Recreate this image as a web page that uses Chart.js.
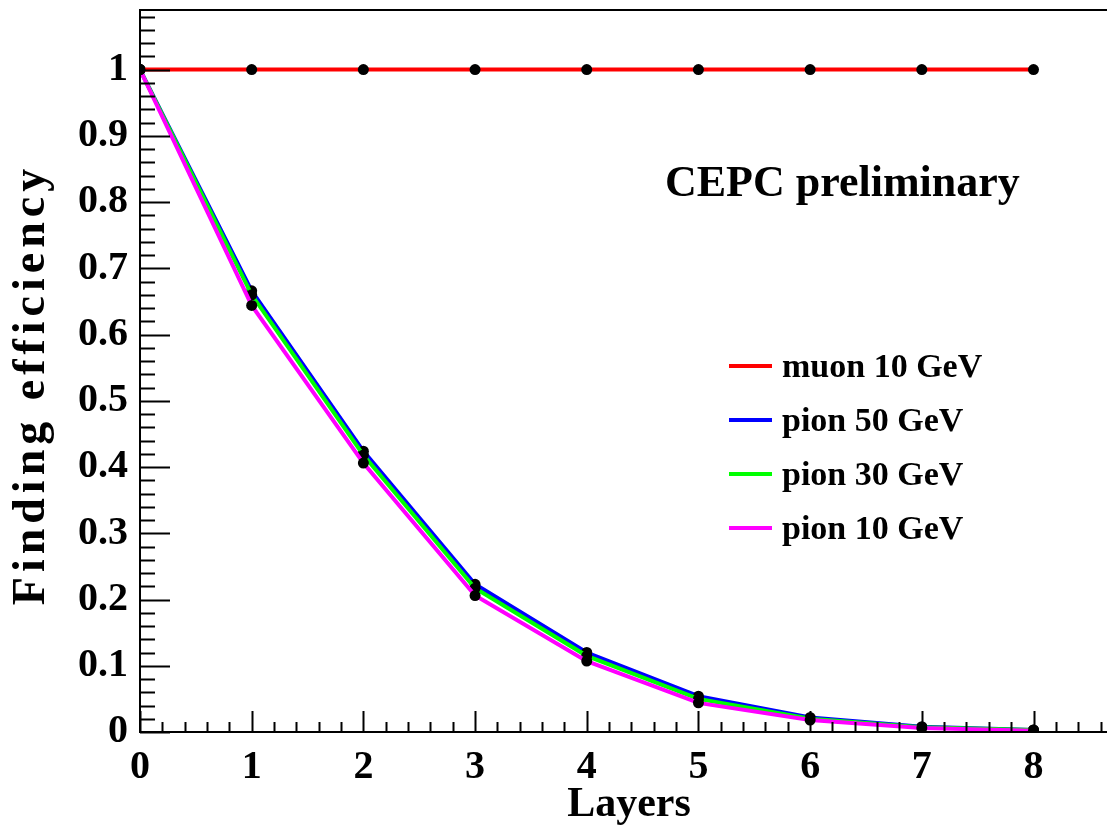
<!DOCTYPE html>
<html>
<head>
<meta charset="utf-8">
<script src="https://cdn.jsdelivr.net/npm/chart.js@4.4.0/dist/chart.umd.min.js"></script>
<style>
  html, body { margin: 0; background: #fff; overflow: hidden; width: 1107px; height: 827px; }
  #wrap { width: 1107px; height: 827px; overflow: hidden; position: relative; }
  #eff { position: absolute; left: 0; top: -10px; }
</style>
</head>
<body>
<div id="wrap"><canvas id="eff" width="1125" height="837"></canvas></div>
<script>
// layers crossed, and finding efficiency per sample
const layers = [0, 1, 2, 3, 4, 5, 6, 7, 8];
const muon10 = [1, 1, 1, 1, 1, 1, 1, 1, 1];
const pion50 = [1, 0.666, 0.424, 0.223, 0.120, 0.054, 0.022, 0.008, 0.003];
const pion30 = [1, 0.660, 0.418, 0.217, 0.115, 0.050, 0.020, 0.007, 0.003];
const pion10 = [1, 0.644, 0.406, 0.206, 0.107, 0.044, 0.018, 0.006, 0.002];
const seriesLabels = ["muon 10 GeV", "pion 50 GeV", "pion 30 GeV", "pion 10 GeV"];
const seriesColors = ["#ff0000", "#0000ff", "#00ff00", "#ff00ff"];
const yTickLabels = ["0", "0.1", "0.2", "0.3", "0.4", "0.5", "0.6", "0.7", "0.8", "0.9", "1"];

const FONT = "'Liberation Serif', 'Times New Roman', serif";
const SHIFT = 10; // canvas is pulled up by this much in the page

function makeSet(i, values, order) {
  return {
    label: seriesLabels[i],
    data: layers.map((x, k) => ({ x: x, y: values[k] })),
    borderColor: seriesColors[i],
    backgroundColor: seriesColors[i],
    borderWidth: 4,
    pointRadius: 5.5,
    pointBackgroundColor: "#000",
    pointBorderColor: "#000",
    pointBorderWidth: 0,
    tension: 0,
    order: order
  };
}

// text with a small extra gap between letters
function spacedText(ctx, text, cx, y, gap) {
  const widths = [...text].map(c => ctx.measureText(c).width);
  const total = widths.reduce((s, w) => s + w, 0) + gap * (text.length - 1);
  let x = cx - total / 2;
  ctx.textAlign = "left";
  [...text].forEach((c, i) => {
    ctx.fillText(c, x, y);
    x += widths[i] + gap;
  });
}

// frame, inner ticks (ROOT style), legend and labels
const rootStyle = {
  id: "rootStyle",
  afterDraw(chart) {
    const ctx = chart.ctx;
    const a = chart.chartArea;
    const xs = chart.scales.x, ys = chart.scales.y;
    ctx.save();
    ctx.strokeStyle = "#000";
    ctx.lineWidth = 2;
    // right side of the frame is off the page, so only three sides
    ctx.beginPath();
    ctx.moveTo(a.right + 20, a.top);
    ctx.lineTo(a.left, a.top);
    ctx.lineTo(a.left, a.bottom);
    ctx.lineTo(a.right + 20, a.bottom);
    ctx.stroke();

    ctx.beginPath();
    for (let k = 0; k * 0.2 <= xs.max + 1e-9; k++) {
      const px = Math.round(xs.getPixelForValue(k * 0.2)) + 0.5;
      const len = (k % 5 === 0) ? 21 : 10;
      ctx.moveTo(px, a.bottom);
      ctx.lineTo(px, a.bottom - len);
    }
    for (let k = 0; k * 0.02 <= ys.max + 1e-9; k++) {
      const py = Math.round(ys.getPixelForValue(k * 0.02)) + 0.5;
      const len = (k % 5 === 0) ? 30 : 15;
      ctx.moveTo(a.left, py);
      ctx.lineTo(a.left + len, py);
    }
    ctx.stroke();

    ctx.translate(0, SHIFT);

    // legend
    ctx.fillStyle = "#000";
    ctx.font = "bold 34px " + FONT;
    ctx.textAlign = "left";
    ctx.textBaseline = "middle";
    chart.data.datasets.forEach((ds, i) => {
      const y = 366 + i * 54;
      ctx.strokeStyle = ds.borderColor;
      ctx.lineWidth = 4;
      ctx.beginPath();
      ctx.moveTo(729, y);
      ctx.lineTo(772, y);
      ctx.stroke();
      ctx.fillText(ds.label, 782, y + 2);
    });

    ctx.font = "bold 44px " + FONT;
    ctx.textBaseline = "alphabetic";
    ctx.fillText("CEPC preliminary", 665, 196);

    ctx.textAlign = "center";
    ctx.font = "bold 42px " + FONT;
    ctx.fillText("Layers", 629, 816);

    ctx.translate(44, 387);
    ctx.rotate(-Math.PI / 2);
    ctx.font = "bold 46px " + FONT;
    spacedText(ctx, "Finding efficiency", 0, 0, 5);
    ctx.restore();
  }
};

new Chart(document.getElementById("eff"), {
  type: "line",
  data: {
    datasets: [
      makeSet(0, muon10, 0),
      makeSet(1, pion50, 3),
      makeSet(2, pion30, 2),
      makeSet(3, pion10, 1)
    ]
  },
  options: {
    responsive: false,
    animation: false,
    layout: { padding: { top: 0, right: 0, left: 0, bottom: 0 } },
    plugins: { legend: { display: false }, tooltip: { enabled: false } },
    scales: {
      x: {
        type: "linear",
        min: 0,
        max: 8.77,
        grid: { display: false, drawTicks: false },
        border: { display: false },
        afterFit(s) { s.height = 95; },
        ticks: {
          stepSize: 1,
          includeBounds: false,
          autoSkip: false,
          padding: 12,
          color: "#000",
          font: { family: FONT, size: 40, weight: "bold" },
          callback: v => (Number.isInteger(v) ? String(v) : "")
        }
      },
      y: {
        type: "linear",
        min: 0,
        max: 1.09,
        grid: { display: false, drawTicks: false },
        border: { display: false },
        afterFit(s) { s.width = 140; },
        ticks: {
          stepSize: 0.1,
          includeBounds: false,
          autoSkip: false,
          padding: 12,
          color: "#000",
          font: { family: FONT, size: 40, weight: "bold", lineHeight: 0.4 },
          callback: v => yTickLabels[Math.round(v * 10)] || ""
        }
      }
    }
  },
  plugins: [rootStyle]
});
</script>
</body>
</html>
